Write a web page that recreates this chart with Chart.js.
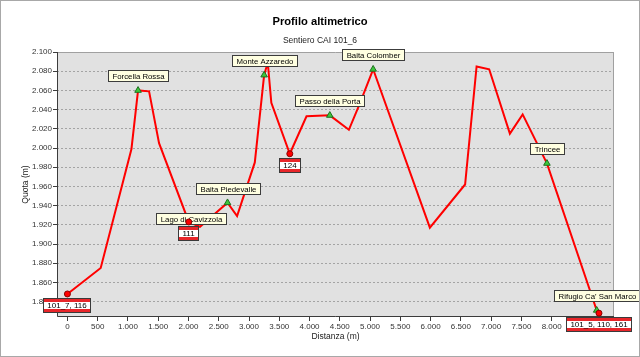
<!DOCTYPE html>
<html><head><meta charset="utf-8">
<script src="https://cdn.jsdelivr.net/npm/chart.js@4.4.1/dist/chart.umd.min.js"></script>
<style>html,body{margin:0;padding:0;background:#fff;}#wrap{width:640px;height:357px;position:relative;}canvas{display:block;}</style>
</head><body><div id="wrap"><canvas id="c" width="640" height="357"></canvas></div>
<script>
const chartTitle = 'Profilo altimetrico';
const chartSubtitle = 'Sentiero CAI 101_6';
const xAxisTitle = 'Distanza (m)';
const yAxisTitle = 'Quota (m)';

// Elevation profile vertices (distance m, elevation m)
const profileDistance  = [0, 550, 1058, 1167, 1349, 1514, 2005, 2190, 2645, 2803, 3096, 3250, 3310, 3369, 3674, 3950, 4335, 4650, 4815, 5051, 5988, 6570, 6760, 6968, 7310, 7521, 7922, 8744, 8782];
const profileElevation = [1848, 1875, 1999, 2060, 2059, 2005, 1923, 1918, 1943, 1929, 1985, 2076, 2089, 2047, 1994, 2033, 2034, 2019, 2044, 2082, 1917, 1962, 2085, 2082, 2015, 2035, 1984, 1831, 1828];

// Named waypoints (green triangles)
const waypointNames = ['Forcella Rossa', 'Lago di Cavizzola', 'Baita Piedevalle', 'Monte Azzaredo', 'Passo della Porta', 'Baita Colomber', 'Trincee', "Rifugio Ca' San Marco"];
const waypointDistance  = [1167, 2005, 2645, 3250, 4335, 5051, 7922, 8744];
const waypointElevation = [2060, 1923, 1943, 2076, 2034, 2082, 1984, 1831];

// Trail junctions (red dots) with CAI trail numbers
const junctionLabels = ['101_7, 116', '111', '124', '101_5, 110, 161'];
const junctionDistance  = [0, 2005, 3674, 8782];
const junctionElevation = [1848, 1923, 1994, 1828];

// Axis ranges / ticks
const xMin = -172, xMax = 9030;
const xTickValues = [0, 500, 1000, 1500, 2000, 2500, 3000, 3500, 4000, 4500, 5000, 5500, 6000, 6500, 7000, 7500, 8000, 8500, 9000];
const yMin = 1824, yMax = 2100;
const yTickValues = [1840, 1860, 1880, 1900, 1920, 1940, 1960, 1980, 2000, 2020, 2040, 2060, 2080, 2100];

const FONT = '"Liberation Sans", Arial, sans-serif';
function fmt(v) { return String(Math.round(v)).replace(/\B(?=(\d{3})+(?!\d))/g, '.'); }
function zip(xs, ys) { return xs.map((x, i) => ({x: x, y: ys[i]})); }

function drawNameLabel(ctx, text, cx, cy) {
  ctx.save();
  ctx.font = '7.8px ' + FONT;
  const w = Math.round(ctx.measureText(text).width + 8);
  const h = 11;
  const x = Math.round(cx - w / 2) + 0.5, y = Math.round(cy - h / 2) + 0.5;
  ctx.fillStyle = '#ffffe1';
  ctx.fillRect(x, y, w, h);
  ctx.strokeStyle = '#3c3c3c'; ctx.lineWidth = 1;
  ctx.strokeRect(x, y, w, h);
  ctx.fillStyle = '#000'; ctx.textAlign = 'center'; ctx.textBaseline = 'middle';
  ctx.fillText(text, x + w / 2, y + h / 2 + 0.5);
  ctx.restore();
}
function drawTrailLabel(ctx, text, cx, cy) {
  ctx.save();
  ctx.font = '8px ' + FONT;
  const w = Math.round(ctx.measureText(text).width + 9);
  const h = 15;
  const x = Math.round(cx - w / 2), y = Math.round(cy - h / 2);
  ctx.fillStyle = '#3a3a3a'; ctx.fillRect(x, y, w, h);
  ctx.fillStyle = '#e8262a'; ctx.fillRect(x + 1, y + 1, w - 2, h - 2);
  ctx.fillStyle = '#ffffff'; ctx.fillRect(x + 1, y + 4, w - 2, h - 8);
  ctx.fillStyle = '#000'; ctx.textAlign = 'center'; ctx.textBaseline = 'middle';
  ctx.fillText(text, x + w / 2, y + h / 2 + 0.5);
  ctx.restore();
}

const decor = {
  id: 'decor',
  beforeDraw(chart) {
    const ctx = chart.ctx, a = chart.chartArea;
    ctx.save();
    ctx.fillStyle = '#fff'; ctx.fillRect(0, 0, chart.width, chart.height);
    ctx.fillStyle = '#e1e1e1'; ctx.fillRect(a.left, a.top, a.right - a.left, a.bottom - a.top);
    ctx.fillStyle = '#000'; ctx.textAlign = 'center'; ctx.textBaseline = 'alphabetic';
    ctx.font = 'bold 11.2px ' + FONT;
    ctx.fillText(chartTitle, 320, 25);
    ctx.fillStyle = '#222';
    ctx.font = '8.5px ' + FONT;
    ctx.fillText(chartSubtitle, 320, 43);
    ctx.restore();
  },
  beforeDatasetsDraw(chart) {
    const ctx = chart.ctx, a = chart.chartArea;
    ctx.save();
    ctx.lineWidth = 1;
    ctx.strokeStyle = '#a0a0a0';
    ctx.beginPath();
    ctx.moveTo(Math.round(a.left) + 0.5, Math.round(a.top) + 0.5);
    ctx.lineTo(Math.round(a.right) - 0.5, Math.round(a.top) + 0.5);
    ctx.lineTo(Math.round(a.right) - 0.5, Math.round(a.bottom) - 0.5);
    ctx.stroke();
    ctx.strokeStyle = '#3c3c3c';
    ctx.beginPath();
    ctx.moveTo(Math.round(a.left) + 0.5, Math.round(a.top));
    ctx.lineTo(Math.round(a.left) + 0.5, Math.round(a.bottom) - 0.5);
    ctx.lineTo(Math.round(a.right), Math.round(a.bottom) - 0.5);
    ctx.stroke();
    ctx.restore();
  },
  afterDatasetDraw(chart, args) {
    if (args.index !== 1) return;
    const ctx = chart.ctx;
    const xs = chart.scales.x, ys = chart.scales.y;
    waypointNames.forEach((name, i) => {
      let dx = 0, dy = -14.5;
      if (name === 'Lago di Cavizzola') { dx = 2; dy = -3; }
      const px = xs.getPixelForValue(waypointDistance[i]);
      const py = ys.getPixelForValue(waypointElevation[i]);
      drawNameLabel(ctx, name, px + dx, py + dy);
    });
  },
  afterDraw(chart) {
    const ctx = chart.ctx;
    const xs = chart.scales.x, ys = chart.scales.y;
    junctionLabels.forEach((lab, i) => {
      const px = xs.getPixelForValue(junctionDistance[i]);
      const py = ys.getPixelForValue(junctionElevation[i]);
      drawTrailLabel(ctx, lab, px, py + 11.5);
    });
    ctx.save();
    ctx.strokeStyle = '#a8a8a8'; ctx.lineWidth = 1;
    ctx.strokeRect(0.5, 0.5, chart.width - 1, chart.height - 1);
    ctx.restore();
  }
};

new Chart(document.getElementById('c'), {
  type: 'scatter',
  data: {
    datasets: [
      {
        data: zip(profileDistance, profileElevation),
        showLine: true, borderColor: '#ff0000', borderWidth: 2, pointRadius: 0,
        tension: 0, order: 3
      },
      {
        data: zip(waypointDistance, waypointElevation),
        showLine: false, pointStyle: 'triangle', pointRadius: 3.8,
        backgroundColor: '#3cc83c', borderColor: '#1f6f1f', borderWidth: 1, order: 2
      },
      {
        data: zip(junctionDistance, junctionElevation),
        showLine: false, pointStyle: 'circle', pointRadius: 3,
        backgroundColor: '#ff0000', borderColor: '#8b0000', borderWidth: 1, order: 1
      }
    ]
  },
  options: {
    responsive: false, animation: false, devicePixelRatio: 1,
    layout: { padding: { top: 52, right: 26, bottom: 0, left: 0 } },
    plugins: { legend: { display: false }, tooltip: { enabled: false }, title: { display: false } },
    scales: {
      x: {
        type: 'linear', position: 'bottom', min: xMin, max: xMax,
        afterBuildTicks(s) { s.ticks = xTickValues.map(v => ({ value: v })); },
        ticks: { autoSkip: false, maxRotation: 0, padding: 1,
                 color: '#333', font: { family: FONT, size: 8 }, callback: v => fmt(v) },
        grid: { drawOnChartArea: false, drawTicks: true, tickLength: 4, tickColor: '#3c3c3c', tickBorderDash: [] },
        border: { display: false },
        title: { display: true, text: xAxisTitle, color: '#222', font: { family: FONT, size: 8.5 }, padding: { top: 0, bottom: 15 } },
        afterFit(s) { s.height = 40; }
      },
      y: {
        type: 'linear', min: yMin, max: yMax,
        afterBuildTicks(s) { s.ticks = yTickValues.map(v => ({ value: v })); },
        ticks: { autoSkip: false, padding: 1,
                 color: '#333', font: { family: FONT, size: 8 }, callback: v => fmt(v) },
        grid: { color: '#a4a4a4', lineWidth: 1, tickLength: 4, tickColor: '#3c3c3c', tickBorderDash: [] },
        border: { display: false, dash: [2, 2] },
        title: { display: true, text: yAxisTitle, color: '#222', font: { family: FONT, size: 8.5 }, padding: { top: 21, bottom: 0 } },
        afterFit(s) { s.width = 57; }
      }
    }
  },
  plugins: [decor]
});
</script>
</body></html>
